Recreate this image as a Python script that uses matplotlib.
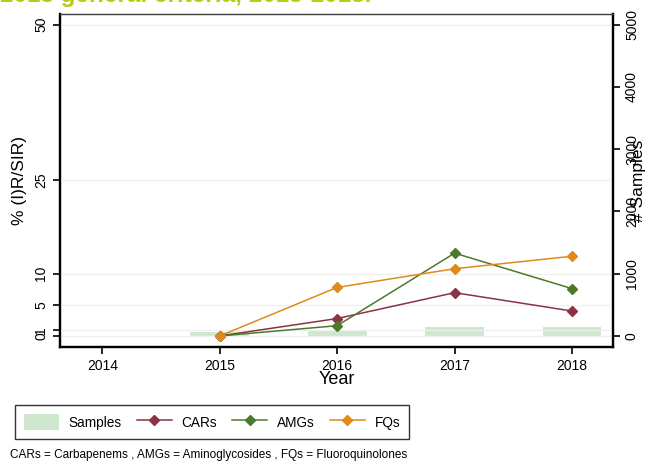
import numpy as np
import matplotlib.pyplot as plt

plt.rcParams['font.family'] = ['Liberation Sans', 'DejaVu Sans']

# ===== DONNEES =====
years = [2015, 2016, 2017, 2018]
samples = [65, 95, 140, 140]
cars = [0.0, 2.8, 6.95, 4.0]
amgs = [0.0, 1.65, 13.3, 7.6]
fqs = [0.0, 7.8, 10.8, 12.8]

year_ticks = [2014, 2015, 2016, 2017, 2018]
pct_ticks = [0, 1, 5, 10, 25, 50]
sample_ticks = [0, 1000, 2000, 3000, 4000, 5000]

col_samples = '#cfe6cf'
col_cars = '#8c3246'
col_amgs = '#4c7a2a'
col_fqs = '#e08a1c'

fig = plt.figure(figsize=(6.57, 4.67), dpi=100)
ax = fig.add_axes([0.0913, 0.257, 0.842, 0.713])
ax2 = ax.twinx()

# barres des échantillons sur l'axe de droite
ax2.bar(years, samples, width=0.5, color=col_samples, zorder=1, label='Samples')
ax2.set_ylim(-177, 5170)
ax2.set_yticks(sample_ticks)
ax2.set_yticklabels([str(t) for t in sample_ticks], rotation=90, va='center', fontsize=10)
ax2.set_ylabel('# Samples', fontsize=12.5, labelpad=-6)

# courbes de résistance sur l'axe de gauche (au-dessus des barres)
ax.set_zorder(ax2.get_zorder() + 1)
ax.patch.set_visible(False)
for t in pct_ticks:
    ax.axhline(t, color='#eef0ee', lw=1, zorder=0)
ax.plot(years, cars, color=col_cars, marker='D', ms=5.5, lw=1.1, label='CARs', zorder=3)
ax.plot(years, amgs, color=col_amgs, marker='D', ms=5.5, lw=1.1, label='AMGs', zorder=3)
ax.plot(years, fqs, color=col_fqs, marker='D', ms=5.5, lw=1.1, label='FQs', zorder=4)

ax.set_xlim(2013.64, 2018.35)
ax.set_ylim(-1.77, 51.7)
ax.set_xticks(year_ticks)
ax.set_xticklabels([str(y) for y in year_ticks], fontsize=10)
ax.set_yticks(pct_ticks)
ax.set_yticklabels([str(t) for t in pct_ticks], rotation=90, va='center', fontsize=10)
ax.set_ylabel('% (I)R/SIR)', fontsize=12.5, labelpad=5)
ax.set_xlabel('Year', fontsize=13, labelpad=-1)

for a in (ax, ax2):
    a.tick_params(direction='out', length=5, width=1.2, color='black')
    a.spines['left'].set_linewidth(1.6)
    a.spines['bottom'].set_linewidth(1.6)
    a.spines['right'].set_linewidth(1.6)
    a.spines['top'].set_linewidth(0.9)
    a.spines['top'].set_color('#444444')

# légende commune
h2, l2 = ax2.get_legend_handles_labels()
h1, l1 = ax.get_legend_handles_labels()
leg = fig.legend(h2 + h1, l2 + l1, loc='lower left', bbox_to_anchor=(0.012, 0.046),
                 ncol=4, frameon=True, fancybox=False, fontsize=9.8,
                 handlelength=2.6, handleheight=1.4, columnspacing=1.1,
                 handletextpad=0.7, borderpad=0.65)
leg.get_frame().set_edgecolor('black')
leg.get_frame().set_linewidth(1.0)

fig.text(0.015, 0.02, 'CARs = Carbapenems , AMGs = Aminoglycosides , FQs = Fluoroquinolones',
         fontsize=8.5)

fig.text(0.0, 0.985, '2018 general criteria, 2015-2018.', fontsize=17.5, fontweight='bold',
         color='#b8cc12', va='bottom')

fig.savefig('out.png', dpi=100)
